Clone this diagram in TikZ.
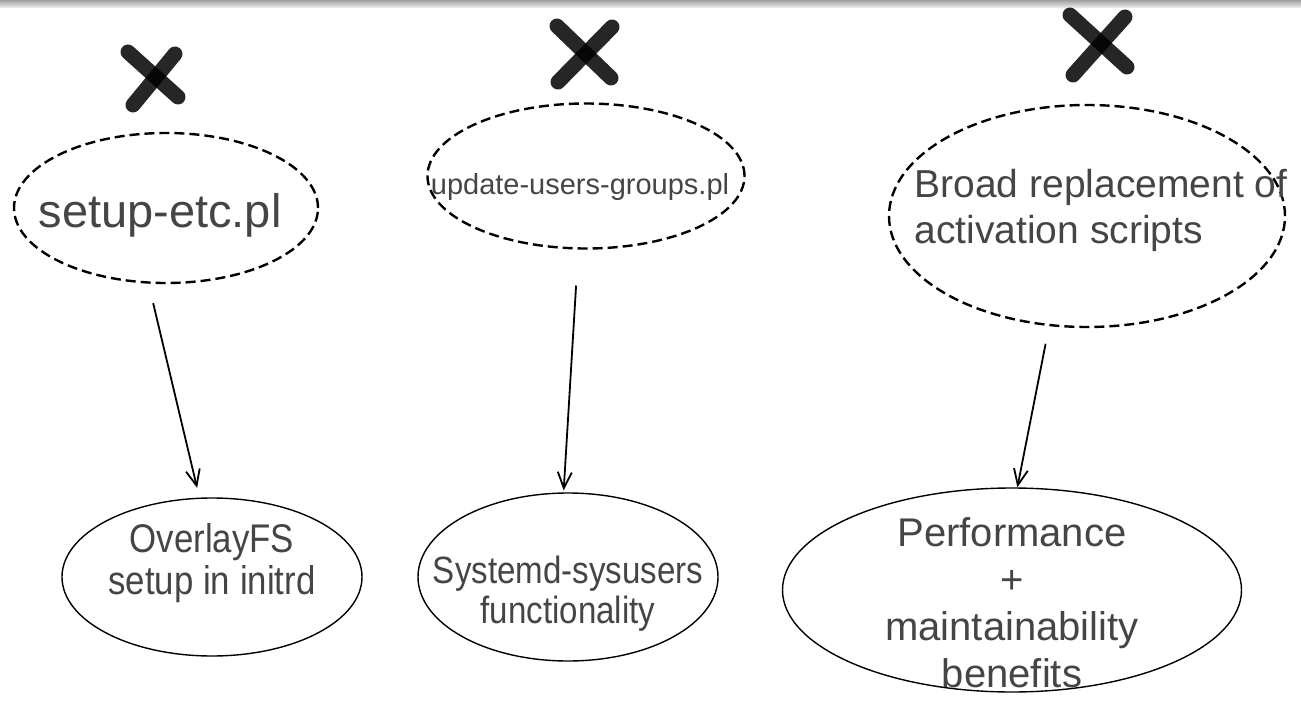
\documentclass[tikz,border=0pt]{standalone}
\usepackage{fontspec}
\setmainfont{Liberation Sans}
\newfontfamily\narrowfont[FakeStretch=0.87]{Liberation Sans}
\usetikzlibrary{shapes.geometric,arrows.meta}
\definecolor{inkgray}{HTML}{454545}
\begin{document}
\begin{tikzpicture}[x=0.5pt,y=-0.5pt,
    dashedbubble/.style={draw, ellipse, dash pattern=on 5pt off 2.5pt, line width=1.2pt, inner sep=0pt},
    solidbubble/.style={draw, ellipse, line width=0.7pt, inner sep=0pt},
    txt/.style={text=inkgray, align=center, inner sep=0pt},
    cross/.style={line width=7.5pt, line cap=round, draw opacity=0.85},
    link/.style={-{Straight Barb[length=8pt,width=7pt]}, line width=0.9pt}]
    \useasboundingbox (0,0) rectangle (1301,701);
    \shade[top color=gray!75, bottom color=gray!10] (0,0) rectangle (1301,8);

    % Dropped pieces
    \node[dashedbubble, minimum width=152pt, minimum height=75pt,
        label={[txt, font=\fontsize{23.5pt}{27pt}\selectfont, xshift=-3pt, yshift=-3.75pt]center:setup-etc.pl}]
        (setup) at (166,208) {};
    \node[dashedbubble, minimum width=158.5pt, minimum height=72.5pt,
        label={[txt, font=\fontsize{14.5pt}{17pt}\selectfont, xshift=-3pt, yshift=-5.75pt]center:update-users-groups.pl}]
        (update) at (586,176) {};
    \node[dashedbubble, minimum width=198pt, minimum height=111pt,
        label={[txt, align=left, font=\fontsize{19.5pt}{23pt}\selectfont, xshift=7pt, yshift=2.75pt]center:Broad replacement of\\activation scripts}]
        (broad) at (1087,216) {};

    % Crossed out
    \draw[cross] (128,52) -- (178,97);
    \draw[cross] (175,54) -- (133,105);
    \draw[cross] (557,26) -- (611,78);
    \draw[cross] (612,27) -- (558,82);
    \draw[cross] (1070,15) -- (1127,67);
    \draw[cross] (1125,17) -- (1073,75);

    % What replaces them
    \node[solidbubble, minimum width=150pt, minimum height=79pt,
        label={[txt, font=\narrowfont\fontsize{20pt}{21pt}\selectfont, yshift=6.75pt]center:OverlayFS\\setup in initrd}]
        (overlay) at (212,577) {};
    \node[solidbubble, minimum width=150pt, minimum height=84pt,
        label={[txt, font=\narrowfont\fontsize{19pt}{20pt}\selectfont, yshift=-8.5pt]center:Systemd-sysusers\\functionality}]
        (sysusers) at (568,577) {};
    \node[solidbubble, minimum width=229.5pt, minimum height=102pt,
        label={[txt, font=\fontsize{20pt}{23.5pt}\selectfont, yshift=-6.5pt]center:Performance\\+\\maintainability\\benefits}]
        (benefits) at (1012,590) {};

    % Arrows
    \draw[link, shorten <=10pt, shorten >=5pt] (setup.257) -- (overlay.99);
    \draw[link, shorten <=18pt, shorten >=1pt] (update.264) -- (sysusers.93);
    \draw[link, shorten <=9pt] (broad.251) -- (benefits.87);
\end{tikzpicture}
\end{document}
